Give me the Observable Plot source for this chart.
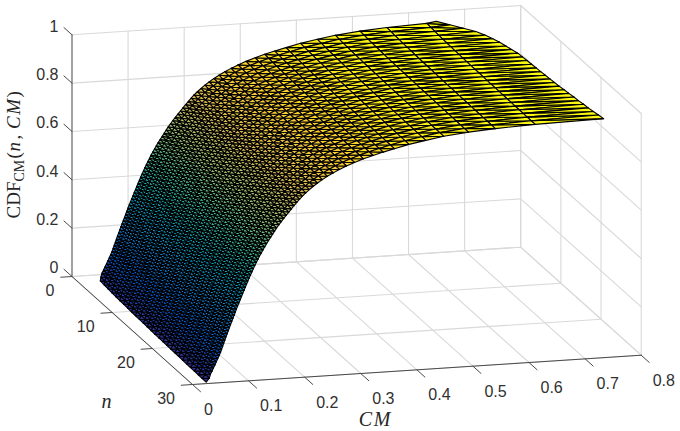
<!DOCTYPE html>
<html><head><meta charset="utf-8">
<script src="https://cdn.jsdelivr.net/npm/d3@7"></script>
<script src="https://cdn.jsdelivr.net/npm/@observablehq/plot@0.6"></script>
<style>html,body{margin:0;padding:0;background:#fff}svg{display:block}</style>
</head><body><div id="chart"></div>
<script>
// Axis ticks
const nTicks = [0, 10, 20, 30];
const cmTicks = [0, 0.1, 0.2, 0.3, 0.4, 0.5, 0.6, 0.7, 0.8];
const zTicks = [0, 0.2, 0.4, 0.6, 0.8, 1];
// Mesh columns: integer n
const nValues = [3,4,5,6,7,8,9,10,11,12,13,14,15,16,17,18,19,20,21,22,23,24,25,26,27,28,29,30];
// Height read on the n=30 edge, one value per mesh row
const rowZ = [0.006,0.022,0.0375,0.05,0.0625,0.075,0.0875,0.10,0.1125,0.125,0.1375,0.15,0.1625,0.175,0.1875,0.20,0.2125,0.225,0.2375,0.25,0.2625,0.275,0.2875,0.30,0.3125,0.325,0.3375,0.35,0.3625,0.375,0.3875,0.40,0.4125,0.425,0.4375,0.45,0.4625,0.475,0.4875,0.50,0.5125,0.525,0.5375,0.55,0.5625,0.575,0.5875,0.60,0.6125,0.625,0.6375,0.65,0.6625,0.675,0.6875,0.70,0.7125,0.725,0.7375,0.75,0.7625,0.775,0.7875,0.80,0.8125,0.825,0.8375,0.85,0.8625,0.875,0.8875,0.899,0.91,0.921,0.935,0.947,0.959,0.9695,0.977,0.9835,0.989];
// CM of each interior mesh row
const rowCM = [0.0300,0.0320,0.0347,0.0373,0.0400,0.0425,0.0450,0.0475,0.0500,0.0519,0.0538,0.0558,0.0577,0.0596,0.0617,0.0638,0.0658,0.0679,0.0700,0.0721,0.0742,0.0763,0.0783,0.0805,0.0827,0.0850,0.0873,0.0895,0.0918,0.0941,0.0964,0.0986,0.1010,0.1035,0.1060,0.1085,0.1111,0.1139,0.1167,0.1194,0.1225,0.1256,0.1288,0.1321,0.1357,0.1393,0.1429,0.1464,0.1500,0.1542,0.1583,0.1627,0.1673,0.1718,0.1764,0.1810,0.1860,0.1910,0.1960,0.2020,0.2085,0.2155,0.2230,0.2315,0.2405,0.2510,0.2620,0.2745,0.2888,0.3050,0.3220,0.3400,0.3600,0.3860,0.4160,0.4480,0.4920,0.5400,0.6110];
// Lowest and highest CM of the mesh at each n
const cmLowEdge = [0.0290,0.0288,0.0286,0.0284,0.0282,0.0280,0.0278,0.0276,0.0274,0.0272,0.0270,0.0269,0.0267,0.0265,0.0263,0.0262,0.0260,0.0258,0.0257,0.0255,0.0253,0.0251,0.0250,0.0249,0.0248,0.0246,0.0245,0.0244];
const cmHighEdge = [0.628,0.645,0.662,0.677,0.686,0.693,0.698,0.702,0.705,0.709,0.710,0.711,0.712,0.713,0.714,0.715,0.716,0.717,0.718,0.720,0.721,0.723,0.724,0.726,0.727,0.729,0.731,0.733];
// Extra height at small n
const zLift = 0.016;
const liftByN = [1,0.88,0.78,0.70,0.63,0.57,0.52,0.47,0.43,0.39,0.36,0.33,0.30,0.27,0.24,0.22,0.20,0.18,0.16,0.14,0.12,0.10,0.08,0.06,0.05,0.03,0.02,0];
const parula = ["#352A87","#0363E1","#1485D4","#06A7C6","#38B99E","#92BF73","#D9BA56","#FCCE2E","#F9FB0E"];
const parulaStops = [0,0.125,0.25,0.375,0.5,0.625,0.75,0.875,1];

// Oblique view of the box
const U = (n, cm) => n / 30 * 120.5 + cm / 0.8 * 448.7;
const V = (n, cm, z) => -n / 30 * 108 + cm / 0.8 * 29.3 + z * 241.7;
const P = (n, cm, z, id) => ({x: U(n, cm), y: V(n, cm, z), id});

const nodeCM = (c, r) => r === 0 ? cmLowEdge[c] : r === rowZ.length - 1 ? cmHighEdge[c] : rowCM[r - 1];
const nodeZ = (c, r) => rowZ[r] + zLift * liftByN[c];
const node = (c, r) => ({n: nValues[c], cm: nodeCM(c, r), z: nodeZ(c, r)});

const tri = [];
let id = 0;
for (let r = rowZ.length - 2; r >= 0; r--) {
  for (let c = 0; c < nValues.length - 1; c++) {
    const a = node(c, r), b = node(c + 1, r), d = node(c + 1, r + 1), e = node(c, r + 1);
    for (const t of [[a, b, d], [a, d, e]]) {
      const level = (t[0].z + t[1].z + t[2].z) / 3;
      for (const p of [...t, t[0]]) tri.push({...P(p.n, p.cm, p.z, id), level});
      id++;
    }
  }
}

const grid = [], ticks = [];
let g = 0;
const seg = (arr, a, b) => { arr.push(P(...a, g), P(...b, g)); g++; };
for (const z of zTicks) {
  seg(grid, [0, 0, z], [0, 0.8, z]);
  seg(grid, [0, 0.8, z], [30, 0.8, z]);
  seg(ticks, [-2, 0, z], [0, 0, z]);
}
for (const cm of cmTicks) {
  seg(grid, [0, cm, 0], [0, cm, 1]);
  seg(grid, [0, cm, 0], [30, cm, 0]);
  seg(ticks, [30, cm, 0], [32, cm, 0]);
}
for (const n of nTicks) {
  seg(grid, [n, 0.8, 0], [n, 0.8, 1]);
  seg(grid, [n, 0, 0], [n, 0.8, 0]);
  seg(ticks, [n, -0.02, 0], [n, 0, 0]);
}
const axisN = [P(0, 0, 0, 0), P(30, 0, 0, 0)];
const axisCM = [P(30, 0, 0, 0), P(30, 0.8, 0, 0)];
const axisZ = [P(0, 0, 0, 0), P(0, 0, 1, 0)];

const tickFont = {fontFamily: "Liberation Sans, Arial, sans-serif", fontSize: 16, fill: "#303030", lineAnchor: "middle"};
const zLabels = zTicks.map(z => ({...P(0, 0, z), t: String(z)}));
const nLabels = nTicks.map(n => ({...P(n, 0, 0), t: String(n)}));
const cmLabels = cmTicks.map(c => ({...P(30, c, 0), t: String(c)}));

const serif = "Liberation Serif, Times New Roman, serif";
const titleMark = (t, dx, dy, size, style, rotate) => Plot.text([t], {
  frameAnchor: "top-left", dx, dy, text: d => d, fontFamily: serif, fontSize: size, fontStyle: style,
  fill: "#262626", rotate, textAnchor: rotate ? "start" : "middle", lineAnchor: "middle"
});

const plot = Plot.plot({
  width: 680, height: 431,
  marginTop: 0, marginRight: 0, marginBottom: 0, marginLeft: 0,
  style: {background: "#fff"},
  x: {domain: [-71.5, 608.5], range: [0, 680], axis: null},
  y: {domain: [276, -155], range: [0, 431], axis: null},
  color: {type: "linear", domain: parulaStops, range: parula},
  marks: [
    Plot.line(grid, {x: "x", y: "y", z: "id", stroke: "#d9d9d9", strokeWidth: 1.1}),
    Plot.line(axisN, {x: "x", y: "y", stroke: "#4a4a4a", strokeWidth: 1}),
    Plot.line(axisCM, {x: "x", y: "y", stroke: "#4a4a4a", strokeWidth: 1}),
    Plot.line(axisZ, {x: "x", y: "y", stroke: "#8f8f8f", strokeWidth: 1.6}),
    Plot.line(ticks, {x: "x", y: "y", z: "id", stroke: "#4a4a4a", strokeWidth: 1}),
    Plot.line(tri, {x: "x", y: "y", z: "id", fill: "level", stroke: "#000", strokeWidth: 1.1, strokeLinejoin: "round"}),
    Plot.text(zLabels, {x: "x", y: "y", text: "t", dx: -13.5, dy: -8.4, textAnchor: "end", ...tickFont}),
    Plot.text(nLabels, {x: "x", y: "y", text: "t", dx: -17.5, dy: 14.7, textAnchor: "end", ...tickFont}),
    Plot.text(cmLabels, {x: "x", y: "y", text: "t", dx: 11.5, dy: 25.5, textAnchor: "start", ...tickFont}),
    titleMark("n", 106, 401, 20, "italic", 0),
    titleMark("C\u200aM", 374, 419, 20, "italic", 0),
    titleMark("CDF", 13.5, 218, 19, "normal", -90),
    titleMark("CM", 19.5, 181, 14, "normal", -90),
    titleMark("(", 13.5, 158, 19, "normal", -90),
    titleMark("n", 13.5, 151, 19, "italic", -90),
    titleMark(",", 13.5, 139, 19, "normal", -90),
    titleMark("C\u200aM", 13.5, 128.5, 19, "italic", -90),
    titleMark(")", 13.5, 97, 19, "normal", -90)
  ]
});
document.getElementById("chart").append(plot);
</script></body></html>
